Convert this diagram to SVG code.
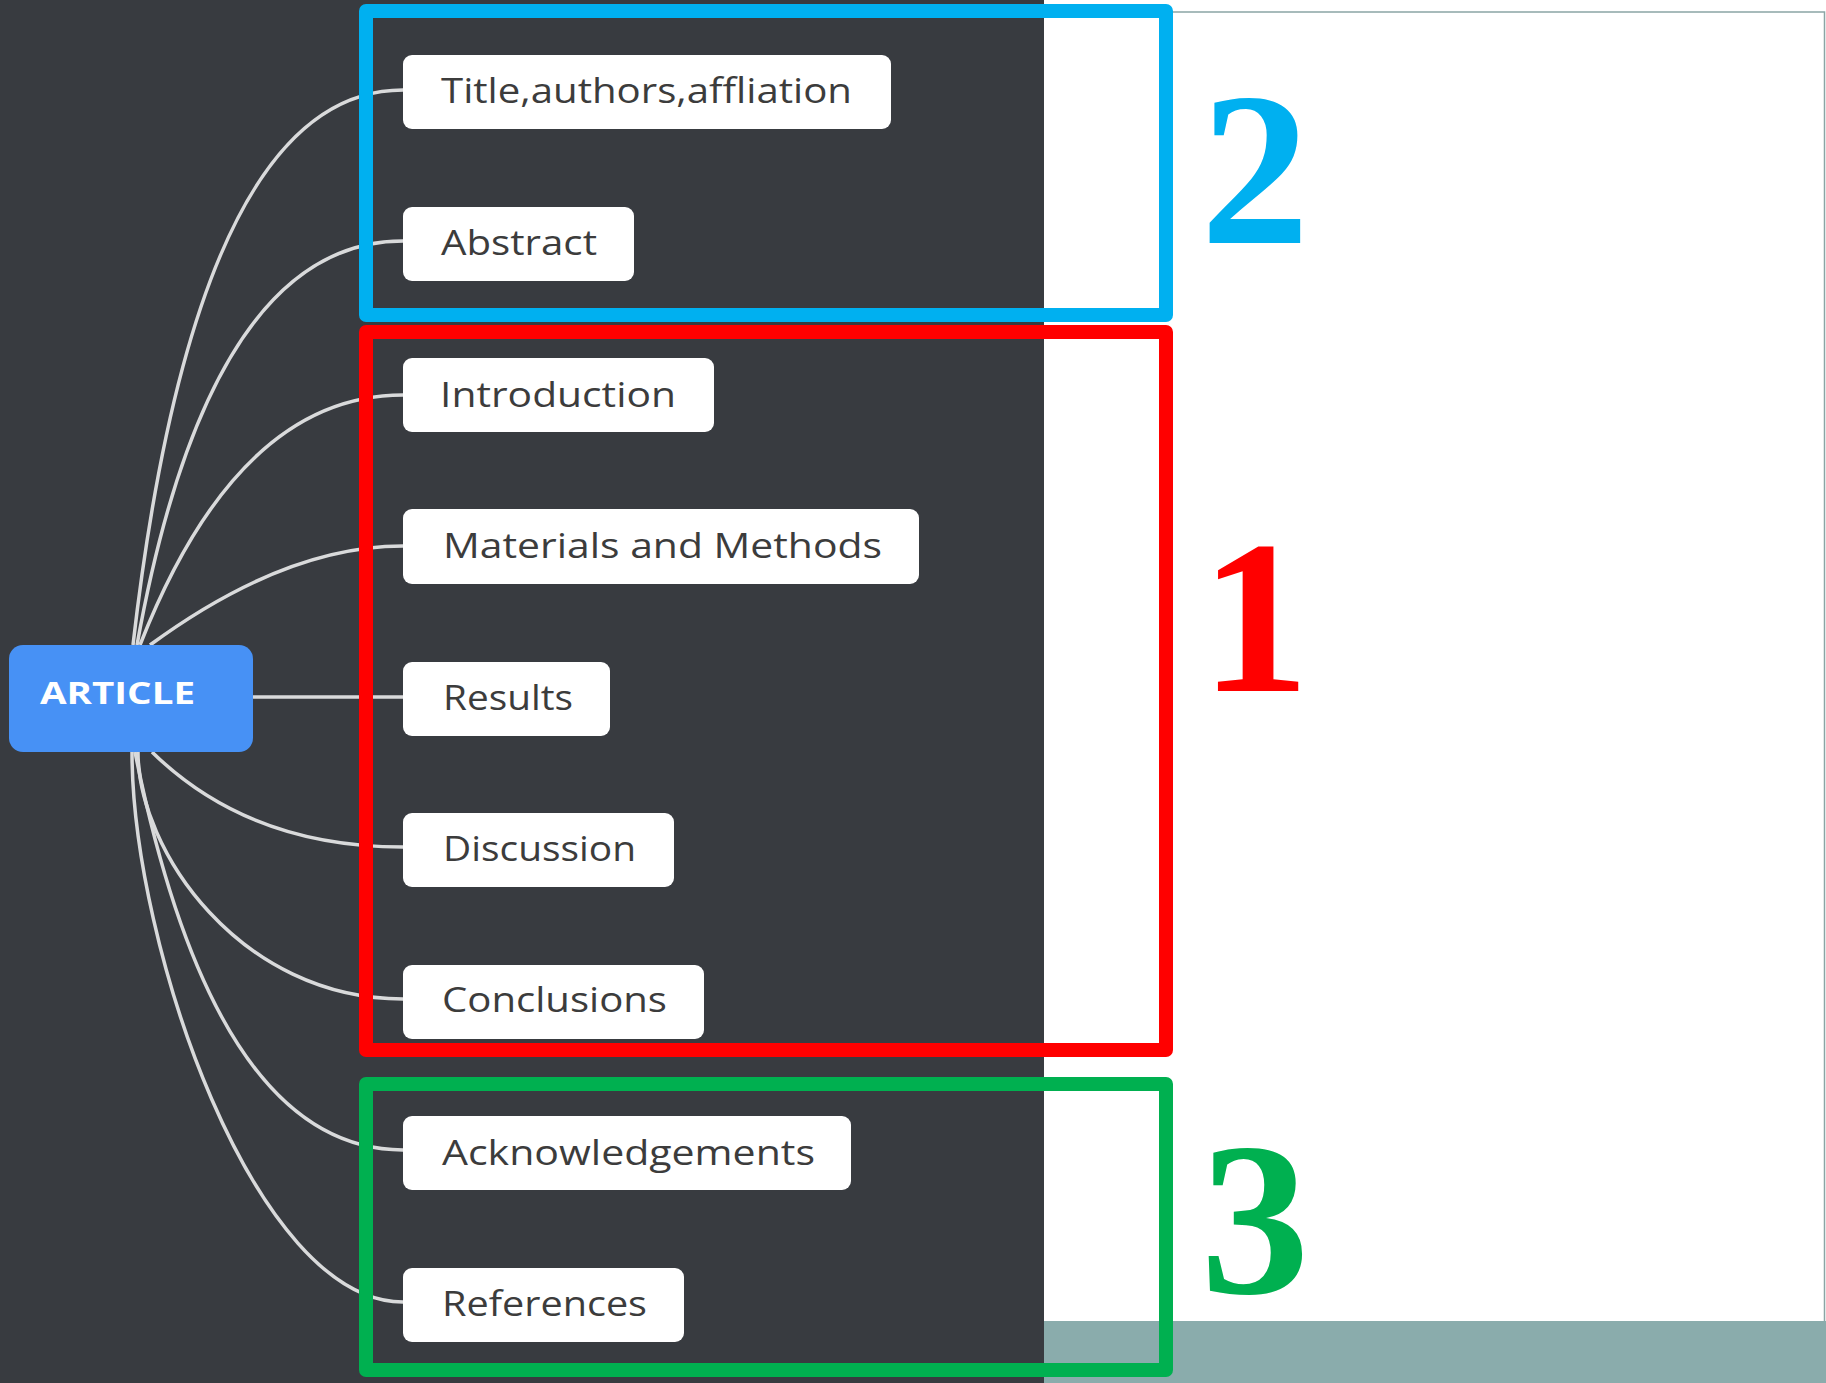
<svg xmlns="http://www.w3.org/2000/svg" width="1826" height="1383" viewBox="0 0 1826 1383">
  <style>
    .node rect { fill: #ffffff; }
    .node text { font-family: "Open Sans", "Noto Sans", "Liberation Sans", sans-serif; font-size: 34px; fill: #3c3c3c; }
    .root rect { fill: #4791f5; }
    .root text { font-family: "Open Sans", "Noto Sans", "Liberation Sans", sans-serif; font-size: 31px; font-weight: bold; fill: #ffffff; }
    .conn path { fill: none; stroke: #d9dadb; stroke-width: 3.5; }
    .frame { fill: none; stroke-width: 14; stroke-linejoin: round; }
    .num { font-family: "Liberation Serif", "Times New Roman", serif; font-weight: bold; font-size: 218px; text-anchor: middle; }
  </style>

  <!-- backgrounds -->
  <rect x="0" y="0" width="1826" height="1383" fill="#ffffff"/>
  <rect x="0" y="0" width="1044" height="1383" fill="#383b40"/>
  <rect x="1044" y="1321" width="782" height="62" fill="#8aacac"/>
  <path d="M1044,12 H1824.5 V1321" fill="none" stroke="#8aa5a5" stroke-width="1.5"/>

  <!-- connectors -->
  <g id="connectors" class="conn">
    <path d="M133,645 Q197,90 403,90"/>
    <path d="M137,645 Q210,241 403,241"/>
    <path d="M140,645 Q238,395 403,395"/>
    <path d="M150,645 Q285,546 403,546"/>
    <path d="M253,697 H403"/>
    <path d="M152,752 Q249,847 403,847"/>
    <path d="M138,752 C138,850 240,999 403,999"/>
    <path d="M135,752 Q215,1150 403,1150"/>
    <path d="M132,752 C132,944 254,1302 403,1302"/>
  </g>

  <!-- root -->
  <g id="node-article" class="root">
    <rect x="9" y="645" width="244" height="107" rx="14"/>
    <text x="40" y="704" textLength="155" lengthAdjust="spacingAndGlyphs">ARTICLE</text>
  </g>

  <!-- children -->
  <g id="node-title" class="node">
    <rect x="403" y="55" width="488" height="74" rx="9"/>
    <text x="441" y="103" textLength="411" lengthAdjust="spacingAndGlyphs">Title,authors,affliation</text>
  </g>
  <g id="node-abstract" class="node">
    <rect x="403" y="207" width="231" height="74" rx="9"/>
    <text x="441" y="255" textLength="156" lengthAdjust="spacingAndGlyphs">Abstract</text>
  </g>
  <g id="node-introduction" class="node">
    <rect x="403" y="358" width="311" height="74" rx="9"/>
    <text x="440" y="407" textLength="236" lengthAdjust="spacingAndGlyphs">Introduction</text>
  </g>
  <g id="node-methods" class="node">
    <rect x="403" y="509" width="516" height="75" rx="9"/>
    <text x="443" y="558" textLength="439" lengthAdjust="spacingAndGlyphs">Materials and Methods</text>
  </g>
  <g id="node-results" class="node">
    <rect x="403" y="662" width="207" height="74" rx="9"/>
    <text x="443" y="710" textLength="130" lengthAdjust="spacingAndGlyphs">Results</text>
  </g>
  <g id="node-discussion" class="node">
    <rect x="403" y="813" width="271" height="74" rx="9"/>
    <text x="443" y="861" textLength="193" lengthAdjust="spacingAndGlyphs">Discussion</text>
  </g>
  <g id="node-conclusions" class="node">
    <rect x="403" y="965" width="301" height="74" rx="9"/>
    <text x="442" y="1012" textLength="225" lengthAdjust="spacingAndGlyphs">Conclusions</text>
  </g>
  <g id="node-acknowledgements" class="node">
    <rect x="403" y="1116" width="448" height="74" rx="9"/>
    <text x="442" y="1165" textLength="373" lengthAdjust="spacingAndGlyphs">Acknowledgements</text>
  </g>
  <g id="node-references" class="node">
    <rect x="403" y="1268" width="281" height="74" rx="9"/>
    <text x="442" y="1316" textLength="205" lengthAdjust="spacingAndGlyphs">References</text>
  </g>

  <!-- group frames -->
  <g id="frame-2">
    <rect class="frame" x="366" y="11" width="800" height="304" stroke="#00b0f0"/>
    <text class="num" x="1255" y="243" fill="#00b0f0">2</text>
  </g>
  <g id="frame-1">
    <rect class="frame" x="366" y="332" width="800" height="718" stroke="#ff0000"/>
    <text class="num" x="1255" y="691" fill="#ff0000">1</text>
  </g>
  <g id="frame-3">
    <rect class="frame" x="366" y="1084" width="800" height="286" stroke="#00b050"/>
    <text class="num" x="1255" y="1293" fill="#00b050">3</text>
  </g>
</svg>
